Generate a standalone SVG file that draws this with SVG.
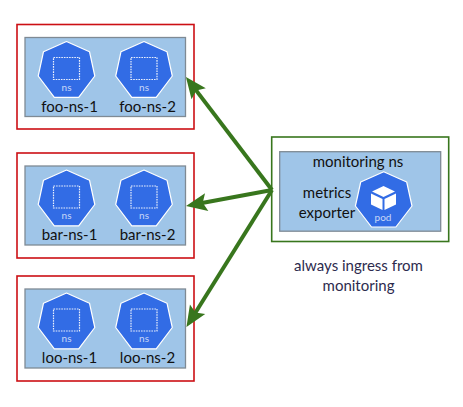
<svg xmlns="http://www.w3.org/2000/svg" width="463" height="407" viewBox="0 0 463 407">
<style>
text{font-family:Lato,"Liberation Sans",sans-serif;fill:#111}
.lbl{font-size:15px;text-anchor:middle}
.ns{fill:#9fc5e8;stroke:#7f8a94;stroke-width:1.3}
.outer{fill:none;stroke:#cc0f14;stroke-width:1.6}
.hept{fill:#326ce5;stroke:#fff;stroke-width:1.2;stroke-linejoin:round}
.dash{fill:none;stroke:#fff;stroke-width:1.2;stroke-dasharray:1.6 1;opacity:.9}
.small{font-size:10px;fill:#c9d8f7;text-anchor:middle}
.conn{stroke:#38761d;stroke-width:4;fill:none;marker-end:url(#ah)}
</style>
<defs>
<marker id="ah" markerUnits="userSpaceOnUse" markerWidth="30" markerHeight="30" refX="16" refY="12" orient="auto">
<path d="M24 12L3 3L7 12L3 21Z" fill="#38761d"/>
</marker>
<g id="nsicon">
<polygon class="hept" points="0,-28 23,-17.800 28.300,6.500 12.200,27.800 -12.200,27.800 -28.300,6.500 -23,-17.800"/>
<rect class="dash" x="-13" y="-12" width="26" height="22"/>
<text class="small" x="0" y="21">ns</text>
</g>
</defs>
<g id="foo">
<rect class="outer" x="17" y="24.500" width="177" height="104.500"/>
<rect class="ns" x="25" y="37.500" width="160.500" height="79"/>
<use href="#nsicon" x="66.500" y="69.500"/>
<use href="#nsicon" x="144" y="69.500"/>
<text class="lbl" x="69.500" y="112">foo-ns-1</text>
<text class="lbl" x="147.500" y="112">foo-ns-2</text>
</g>
<g id="bar">
<rect class="outer" x="17" y="153" width="177" height="105"/>
<rect class="ns" x="25" y="166" width="160.500" height="79"/>
<use href="#nsicon" x="66.500" y="198"/>
<use href="#nsicon" x="144" y="198"/>
<text class="lbl" x="69.500" y="240">bar-ns-1</text>
<text class="lbl" x="147.500" y="240">bar-ns-2</text>
</g>
<g id="loo">
<rect class="outer" x="17" y="276" width="177" height="105"/>
<rect class="ns" x="25" y="289" width="160.500" height="79"/>
<use href="#nsicon" x="66.500" y="321"/>
<use href="#nsicon" x="144" y="321"/>
<text class="lbl" x="69.500" y="363">loo-ns-1</text>
<text class="lbl" x="147.500" y="363">loo-ns-2</text>
</g>
<g id="monitoring">
<rect x="271.700" y="137" width="177" height="104.500" fill="none" stroke="#38761d" stroke-width="1.600"/>
<rect class="ns" x="279.700" y="151.700" width="161" height="79.500"/>
<text class="lbl" x="358" y="167">monitoring ns</text>
<text class="lbl" x="327" y="198">metrics</text>
<text class="lbl" x="327" y="218">exporter</text>
<polygon class="hept" points="383.700,171.700 406.700,182 412,206 395.900,227 371.500,227 355.400,206 360.700,182"/>
<path d="M383.500 186L372 191.500L383.500 197L395 191.500Z" fill="#fff"/>
<path d="M371 193.500L382.500 199V210L371 204.500Z" fill="#fff"/>
<path d="M396 193.500L384.500 199V210L396 204.500Z" fill="#fff"/>
<text class="small" x="383" y="221">pod</text>
</g>
<g id="caption">
<text class="lbl" x="358.500" y="271" style="fill:#2d2b4e">always ingress from</text>
<text class="lbl" x="358.500" y="291" style="fill:#2d2b4e">monitoring</text>
</g>
<g id="connectors">
<line class="conn" x1="272" y1="190" x2="190.800" y2="83.400"/>
<line class="conn" x1="272" y1="190" x2="193.900" y2="204.500"/>
<line class="conn" x1="272" y1="190" x2="190.700" y2="320.200"/>
</g>
</svg>
